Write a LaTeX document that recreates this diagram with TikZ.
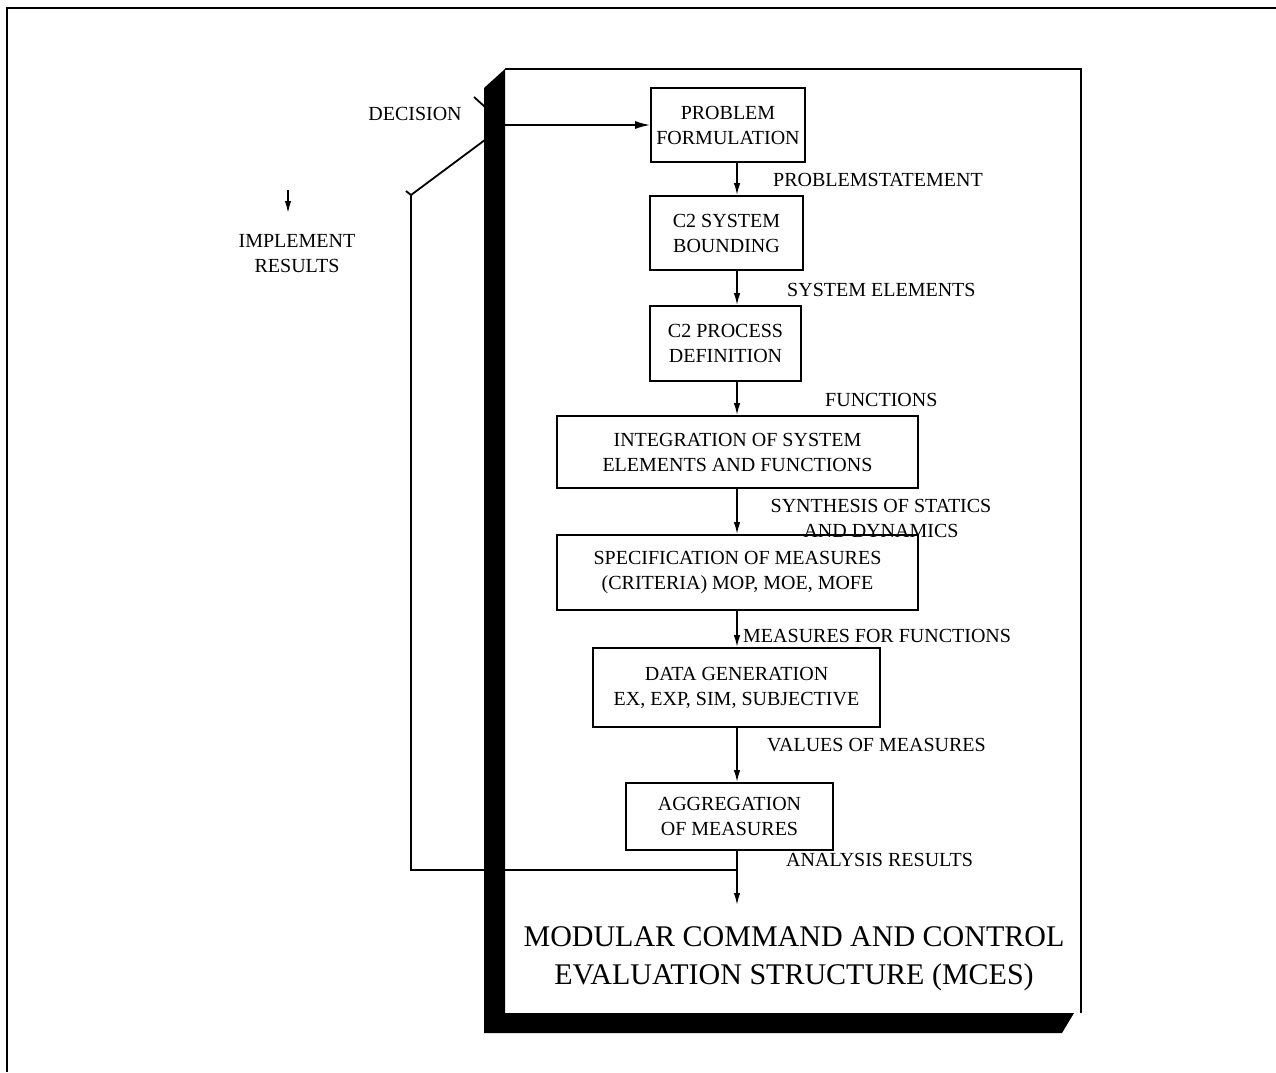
\documentclass[tikz,border=0pt]{standalone}
\usepackage{fontspec}
\setmainfont{Liberation Serif}
\usetikzlibrary{arrows.meta}
\tikzset{
  blk/.style={draw, line width=1.8pt, align=center, inner sep=0pt, font=\fontsize{20}{25}\selectfont},
  lbl/.style={inner sep=0pt, align=center, font=\fontsize{20}{25}\selectfont},
  arr/.style={line width=1.6pt, -{Latex[length=12pt,width=6.5pt]}},
  wire/.style={line width=1.8pt}
}

\begin{document}
\begin{tikzpicture}[x=1pt,y=-1pt]
		%%%%% START %%%%%
		\useasboundingbox (0,0) rectangle (1276,1072);
		
		% outer frame (left and top only)
		\draw[line width=2pt] (7,1072) -- (7,8) -- (1276,8);
		
		% panel with shadow
		\fill[black] (484,88) -- (505,69) -- (505,1013) -- (1074,1013) -- (1062,1033) -- (484,1033) -- cycle;
		\draw[line width=1.5pt] (505,69) -- (1081,69) -- (1081,1013);
		
		\coordinate (spine) at (737,0);
		
		\node[blk, minimum width=154, minimum height=74] (pf) at (728,125) {PROBLEM\\FORMULATION};
		\node[blk, minimum width=153, minimum height=74] (sb) at (726.5,233) {C2 SYSTEM\\BOUNDING};
		\node[blk, minimum width=151, minimum height=75] (pd) at (725.5,343.5) {C2 PROCESS\\DEFINITION};
		\node[blk, minimum width=361, minimum height=72] (ig) at (737.5,452) {INTEGRATION OF SYSTEM\\ELEMENTS AND FUNCTIONS};
		\node[blk, minimum width=361, minimum height=75] (sm) at (737.5,572.5) {SPECIFICATION OF MEASURES\\(CRITERIA) MOP, MOE, MOFE};
		\node[blk, minimum width=287, minimum height=79] (dg) at (736.5,687.5) {DATA GENERATION\\EX, EXP, SIM, SUBJECTIVE};
		\node[blk, minimum width=207, minimum height=67] (ag) at (729.5,816.5) {AGGREGATION\\OF MEASURES};
		
		\node[lbl, font=\fontsize{30}{38}\selectfont] (ttl) at (794,959) {MODULAR COMMAND AND CONTROL\\EVALUATION STRUCTURE (MCES)};
		\coordinate (out) at (737,905);
		
		\draw[arr] (pf.south -| spine) -- (sb.north -| spine);
		\draw[arr] (sb.south -| spine) -- (pd.north -| spine);
		\draw[arr] (pd.south -| spine) -- (ig.north -| spine);
		\draw[arr] (ig.south -| spine) -- (sm.north -| spine);
		\draw[arr] (sm.south -| spine) -- (dg.north -| spine);
		\draw[arr] (dg.south -| spine) -- (ag.north -| spine);
		\draw[arr] (ag.south -| spine) -- (out);
		
		\node[lbl, anchor=west] (l1) at (773,180) {PROBLEMSTATEMENT};
		\node[lbl, anchor=west] (l2) at (787,290) {SYSTEM ELEMENTS};
		\node[lbl, anchor=west] (l3) at (825,400) {FUNCTIONS};
		\node[lbl] (l4) at (881,518) {SYNTHESIS OF STATICS\\AND DYNAMICS};
		\node[lbl, anchor=west] (l5) at (743,636) {MEASURES FOR FUNCTIONS};
		\node[lbl, anchor=west] (l6) at (767,745) {VALUES OF MEASURES};
		\node[lbl, anchor=west] (l7) at (786,860) {ANALYSIS RESULTS};
		
		% decision switch and feedback
		\node[lbl] (dec) at (415,114) {DECISION};
		\coordinate (sw) at (505,125);
		\coordinate (fb) at (411,195);
		\draw[wire] (474,97) -- (sw);
		\draw[arr, -{Latex[length=15pt,width=8pt]}] (sw) -- (pf.west);
		\draw[wire] (sw) -- (fb) -- (fb |- 0,870) -- (spine |- 0,870);
		\draw[wire] (406,191) -- (fb);
		
		\node[lbl] (imp) at (297,254) {IMPLEMENT\\RESULTS};
		\coordinate (i0) at (288,190);
		\coordinate (i1) at (288,213);
		\draw[arr] (i0) -- (i1);
		
		%%%%% END %%%%%
	\end{tikzpicture}
\end{document}
